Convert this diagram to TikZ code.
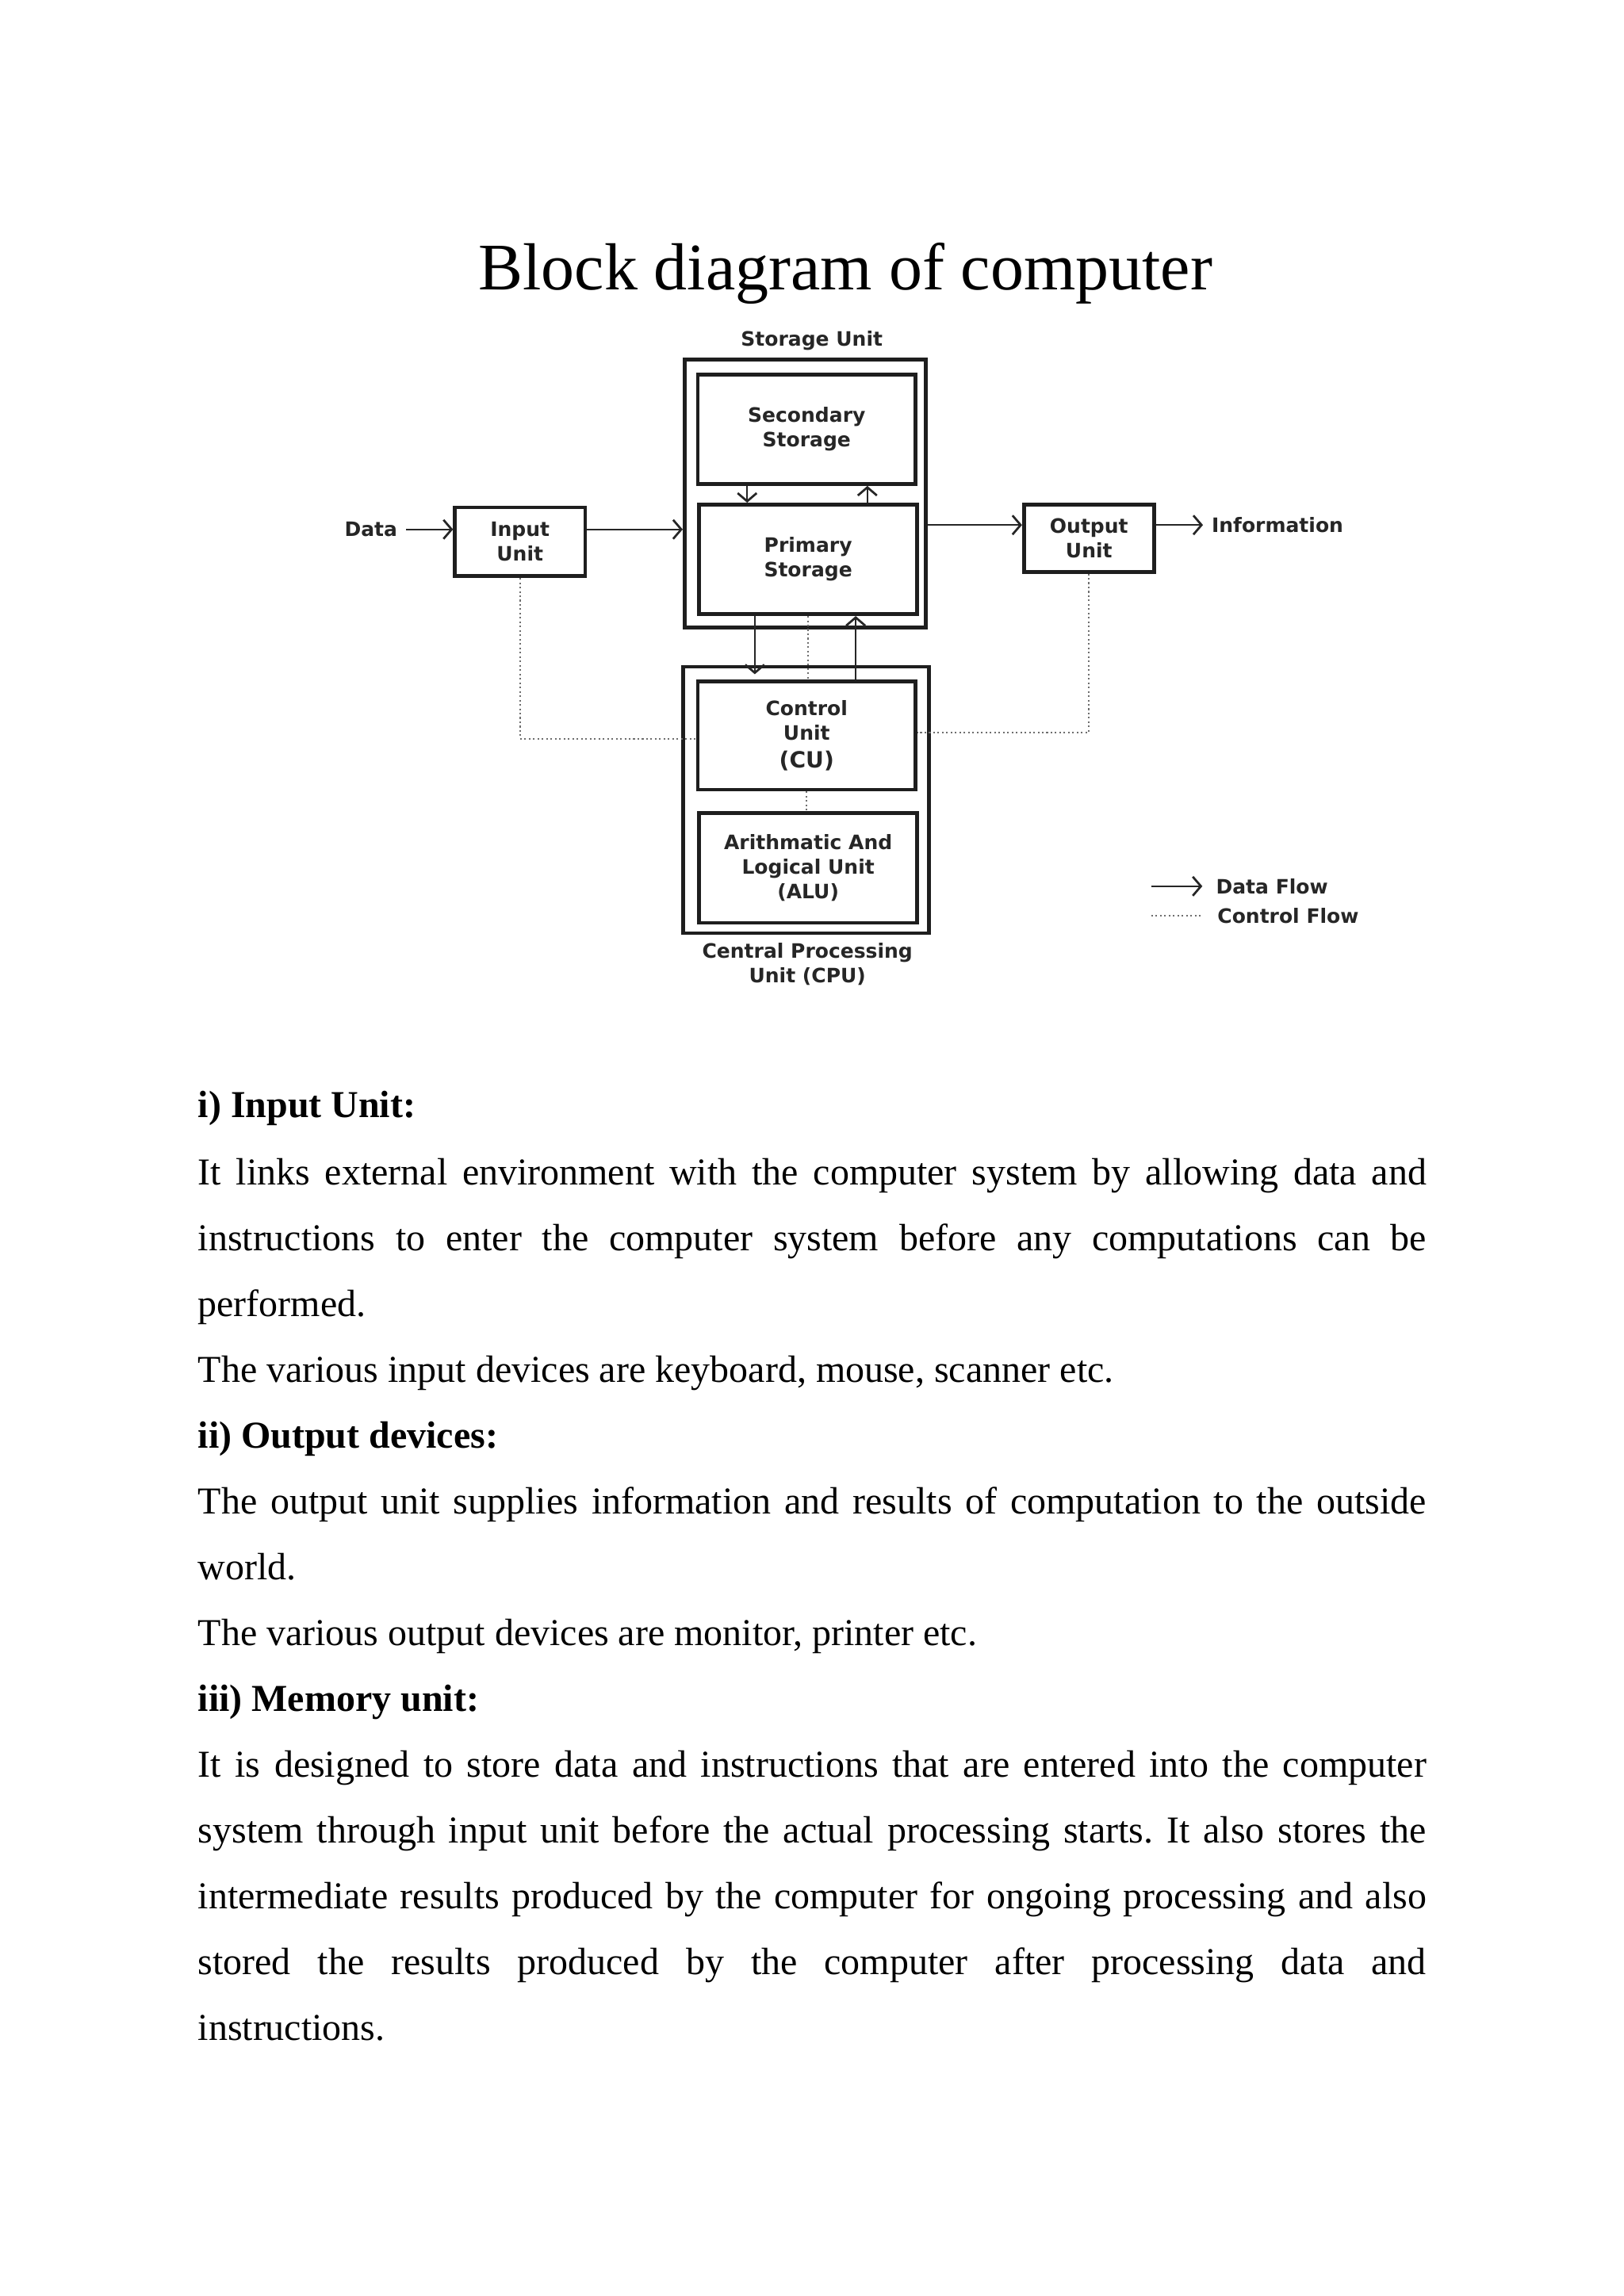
\documentclass[tikz,border=0pt]{standalone}
\usepackage{fontspec}
\setmainfont{Liberation Serif}
\newfontfamily\diagfont{DejaVu Sans}
\usetikzlibrary{arrows.meta}
\frenchspacing

\definecolor{boxgray}{HTML}{1E1E1E}
\definecolor{labgray}{HTML}{262626}
\definecolor{ctrlgray}{HTML}{6E6E6E}

\tikzset{
  unit/.style={draw=boxgray, line width=1.35pt, align=center, inner sep=0pt,
    font=\diagfont\bfseries\fontsize{7.3}{9.1}\selectfont, text=labgray},
  lbl/.style={align=center, inner sep=0pt,
    font=\diagfont\bfseries\fontsize{7.3}{9.1}\selectfont, text=labgray},
  flow/.style={draw=black!85, line width=0.6pt, -{Straight Barb[length=3pt,width=7pt,line width=0.8pt]}},
  ctrl/.style={draw=ctrlgray, line width=0.6pt, densely dotted},
  body/.style={anchor=base west, inner sep=0pt, font=\fontsize{14}{24}\selectfont},
  head/.style={body, font=\bfseries\fontsize{14}{24}\selectfont},
}

\newcommand{\just}[1]{\makebox[15.89cm][s]{#1}}

\begin{document}
\begin{tikzpicture}[x=0.018919cm, y=-0.018919cm]
  \useasboundingbox (0,0) rectangle (1110,1570);

  % Title
  \node[anchor=base, inner sep=0pt, font=\fontsize{24.5}{28}\selectfont] (title) at (578,198) {Block diagram of computer};

  % Storage unit
  \node[lbl] (storelab) at (555,233) {Storage Unit};
  \node[unit, minimum width=3.122cm, minimum height=3.462cm] (store) at (550.5,337.5) {};
  \node[unit, minimum width=2.819cm, minimum height=1.419cm] (sec) at (551.5,293.5) {Secondary\\Storage};
  \node[unit, minimum width=2.819cm, minimum height=1.419cm] (prim) at (552.5,382.5) {Primary\\Storage};

  % Input and output
  \node[lbl, anchor=east] (dat) at (272,362) {Data};
  \node[unit, minimum width=1.684cm, minimum height=0.889cm] (input) at (355.5,370.5) {Input\\Unit};
  \node[unit, minimum width=1.684cm, minimum height=0.870cm] (output) at (744.5,368) {Output\\Unit};
  \node[lbl, anchor=west] (info) at (828,359) {Information};

  % CPU
  \node[unit, minimum width=3.178cm, minimum height=3.443cm] (cpu) at (551,547) {};
  \node[unit, minimum width=2.819cm, minimum height=1.400cm] (cu) at (551.5,503) {Control\\Unit\\[1pt]{\fontsize{8.2}{9}\selectfont(CU)}};
  \node[unit, minimum width=2.819cm, minimum height=1.419cm] (alu) at (552.5,593.5) {Arithmatic And\\Logical Unit\\(ALU)};
  \node[lbl] (cpulab) at (552,659.5) {Central Processing\\Unit (CPU)};

  % Data flow
  \draw[flow] ([xshift=3pt]dat.east) -- (input.west |- dat.east);
  \draw[flow] (input.east |- dat.east) -- (store.west |- dat.east);
  \draw[flow] (store.east |- info.west) -- (output.west |- info.west);
  \draw[flow] (output.east |- info.west) -- ([xshift=-3pt]info.west);
  \draw[flow] ([xshift=-0.77cm]sec.south) -- ([xshift=-0.77cm]sec.south |- prim.north);
  \draw[flow] ([xshift=0.785cm]sec.south |- prim.north) -- ([xshift=0.785cm]sec.south);
  \draw[flow] ([xshift=-0.69cm]prim.south) -- ([xshift=-0.69cm,yshift=0.07cm]prim.south |- cu.north);
  \draw[flow] ([xshift=0.634cm]cu.north) -- ([xshift=0.634cm]cu.north |- prim.south);

  % Control flow
  \draw[ctrl] (prim.south) -- (prim.south |- cu.north);
  \draw[ctrl] (cu.south) -- (cu.south |- alu.north);
  \draw[ctrl] (input.south) |- ([yshift=-0.04cm]cu.west);
  \draw[ctrl] (output.south) |- ([yshift=0.04cm]cu.east);

  % Legend
  \coordinate (lga) at (787,606);
  \coordinate (lgb) at (822,606);
  \coordinate (lgc) at (787,626);
  \coordinate (lgd) at (822,626);
  \draw[flow] (lga) -- (lgb);
  \draw[ctrl] (lgc) -- (lgd);
  \node[lbl, anchor=west] (lgdata) at (831,606) {Data Flow};
  \node[lbl, anchor=west] (lgctrl) at (832,626) {Control Flow};

  % Text
  \node[head] (h1) at (135,764) {i) Input Unit:};
  \node[body] (t1) at (135,810) {\just{It links external environment with the computer system by allowing data and}};
  \node[body] (t2) at (135,855) {\just{instructions to enter the computer system before any computations can be}};
  \node[body] (t3) at (135,900) {performed.};
  \node[body] (t4) at (135,945) {The various input devices are keyboard, mouse, scanner etc.};
  \node[head] (h2) at (135,990) {ii) Output devices:};
  \node[body] (t5) at (135,1035) {\just{The output unit supplies information and results of computation to the outside}};
  \node[body] (t6) at (135,1080) {world.};
  \node[body] (t7) at (135,1125) {The various output devices are monitor, printer etc.};
  \node[head] (h3) at (135,1170) {iii) Memory unit:};
  \node[body] (t8) at (135,1215) {\just{It is designed to store data and instructions that are entered into the computer}};
  \node[body] (t9) at (135,1260) {\just{system through input unit before the actual processing starts. It also stores the}};
  \node[body] (t10) at (135,1305) {\just{intermediate results produced by the computer for ongoing processing and also}};
  \node[body] (t11) at (135,1350) {\just{stored the results produced by the computer after processing data and}};
  \node[body] (t12) at (135,1395) {instructions.};
\end{tikzpicture}
\end{document}
